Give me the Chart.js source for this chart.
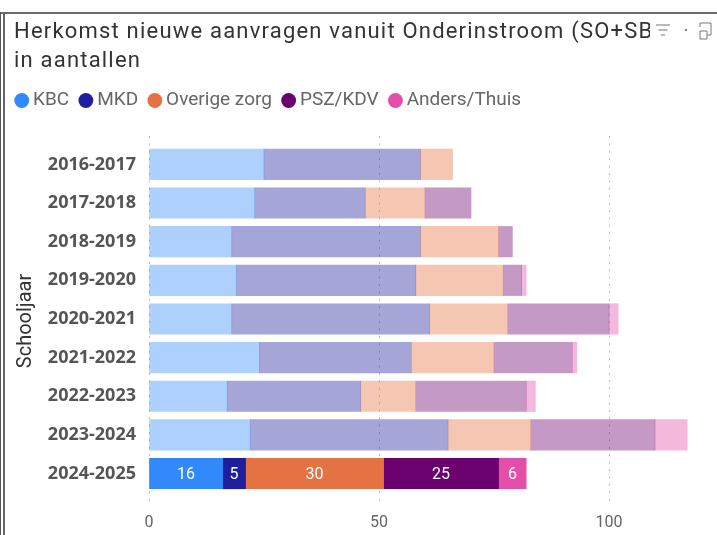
<!DOCTYPE html>
<html><head><meta charset="utf-8">
<script src="https://cdn.jsdelivr.net/npm/chart.js@4"></script>
<style>
html,body{margin:0;padding:0;background:#fff;width:717px;height:535px;overflow:hidden}
#frame{position:absolute;left:0;top:12px;width:717px;height:523px;border-top:2px solid #6a6a6a;box-sizing:border-box}
#l1{position:absolute;left:0;top:12px;width:1px;height:523px;background:#555}
#l2{position:absolute;left:3px;top:12px;width:1.5px;height:523px;background:#666}
#title{position:absolute;left:14px;top:17px;width:636px;height:56px;overflow:hidden;font:22px/28.5px Roboto,sans-serif;color:#333;white-space:nowrap;letter-spacing:1.2px}
#c{position:absolute;left:0;top:0}
#icons{position:absolute;left:655px;top:22px}
</style></head><body>
<canvas id="c" width="717" height="535"></canvas>
<div id="frame"></div><div id="l1"></div><div id="l2"></div>
<div id="title">Herkomst nieuwe aanvragen vanuit Onderinstroom (SO+SBO)<br>in aantallen</div>
<svg id="icons" width="60" height="20" fill="none" stroke="#777" stroke-width="1">
<path d="M1 3h14M3.5 8h9M6 13h4"/><circle cx="31" cy="8" r=".8" fill="#777"/><path d="M45 5V1h11v12h-4M45 9h7v8h-7z"/></svg>
<script>
const categories=['2016-2017','2017-2018','2018-2019','2019-2020','2020-2021','2021-2022','2022-2023','2023-2024','2024-2025'];
const KBC=[25,23,18,19,18,24,17,22,16];
const MKD=[34,24,41,39,43,33,29,43,5];
const Overig=[7,13,17,19,17,18,12,18,30];
const PSZ=[null,10,3,4,22,17,24,27,25];
const Anders=[null,null,null,1,2,1,2,7,6];
const seriesNames=['KBC','MKD','Overige zorg','PSZ/KDV','Anders/Thuis'];
const seriesValues=[KBC,MKD,Overig,PSZ,Anders];
const seriesRGB=['50,137,251','31,31,158','229,114,66','107,0,111','227,78,168'];
const xTicks=[0,50,100];
const active=categories.length-1;

const LEGEND_EXTRA=16;
const legendGap={id:'legendGap',beforeInit(chart){
  const fit=chart.legend.fit;
  chart.legend.fit=function(){fit.call(this);this.height+=LEGEND_EXTRA;};
}};
const valueLabels={id:'valueLabels',afterDatasetsDraw(chart){
  const ctx=chart.ctx;ctx.save();
  ctx.font='16px Roboto, sans-serif';ctx.fillStyle='#fff';ctx.textAlign='center';ctx.textBaseline='middle';
  chart.data.datasets.forEach((d,i)=>{
    const el=chart.getDatasetMeta(i).data[active];
    const p=el.getProps(['x','y','base'],true);
    ctx.fillText(String(d.data[active].x),(p.x+p.base)/2,p.y+1);
  });
  ctx.restore();
}};
new Chart(document.getElementById('c'),{
  type:'bar',
  data:{datasets:seriesNames.map((n,i)=>({
    label:n,
    data:seriesValues[i].map((v,j)=>({x:v,y:j})),
    backgroundColor:categories.map((_,j)=>`rgba(${seriesRGB[i]},${j===active?1:.4})`),
    borderWidth:0,barThickness:30.5,stack:'s'
  }))},
  options:{
    indexAxis:'y',responsive:false,animation:false,
    layout:{padding:{left:5,top:76,right:16,bottom:0}},
    plugins:{
      tooltip:{enabled:false},title:{display:false},
      legend:{position:'top',align:'start',labels:{
        usePointStyle:true,pointStyle:'circle',boxWidth:3.5,boxHeight:10.5,padding:15,
        color:'#666',font:{family:'Roboto, sans-serif',size:19},
        generateLabels(){return seriesNames.map((n,i)=>({text:n,fillStyle:`rgb(${seriesRGB[i]})`,strokeStyle:`rgb(${seriesRGB[i]})`,lineWidth:0,pointStyle:'circle',datasetIndex:i,fontColor:'#666'}));}
      }}
    },
    scales:{
      x:{type:'linear',stacked:true,min:0,max:120,position:'bottom',
        afterBuildTicks(s){s.ticks=xTicks.map(v=>({value:v}));},
        border:{display:false,dash:[2,5.4]},
        grid:{color:'#bdbdbd',lineWidth:1,tickLength:0,drawTicks:false},
        ticks:{color:'#666',font:{family:'Roboto, sans-serif',size:16},padding:7,maxRotation:0},
        afterFit(s){s.height=29;}
      },
      y:{type:'linear',stacked:true,reverse:true,offset:false,min:-0.735,max:8.84,
        afterBuildTicks(s){s.ticks=categories.map((_,i)=>({value:i}));},
        afterFit(s){s.width=144;},
        border:{display:false},grid:{display:false},
        title:{display:true,text:'Schooljaar',color:'#333',font:{family:'Roboto, sans-serif',size:20},padding:{top:9,bottom:0}},
        ticks:{color:'#555',autoSkip:false,padding:5,font:{family:'Open Sans, sans-serif',size:18,weight:'bold'},callback:v=>categories[v]}
      }
    }
  },
  plugins:[legendGap,valueLabels]
});
</script>
</body></html>
